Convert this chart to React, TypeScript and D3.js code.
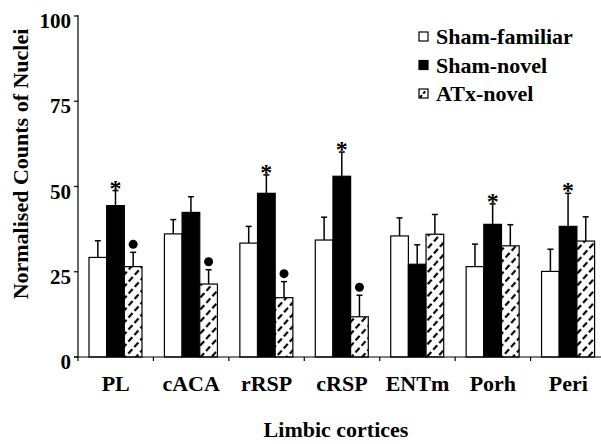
import React from 'react'
import * as d3 from 'd3'

// regions along the x axis
const regions = ['PL', 'cACA', 'rRSP', 'cRSP', 'ENTm', 'Porh', 'Peri']
const groups = ['Sham-familiar', 'Sham-novel', 'ATx-novel']

// mean values
const shamFamiliar = [29.2, 36.1, 33.4, 34.3, 35.5, 26.5, 25.1]
const shamNovel = [44.4, 42.4, 48.0, 53.0, 27.2, 38.9, 38.3]
const atxNovel = [26.5, 21.4, 17.4, 11.8, 36.0, 32.6, 34.0]

// top of the (upward only) error bars
const shamFamiliarErr = [34.1, 40.3, 38.3, 41.0, 40.8, 33.1, 31.6]
const shamNovelErr = [48.8, 47.0, 53.4, 60.1, 32.9, 44.9, 48.0]
const atxNovelErr = [30.7, 25.6, 22.1, 18.1, 41.8, 38.8, 41.1]

// significance marks: * on sham-novel, dot on ATx-novel
const starMarks = [true, false, true, true, false, true, true]
const dotMarks = [true, true, true, true, false, false, false]

const yTicks = [0, 25, 50, 75, 100]

export default function App() {
  const W = 601, H = 444
  const left = 78, right = 606, top = 16, bottom = 357

  const x = d3.scaleBand().domain(regions).range([left, right])
  const inner = d3.scaleBand().domain(groups).range([11, 64]).paddingInner(0)
  const y = d3.scaleLinear().domain([0, 100]).range([bottom, top])

  const series = [
    { name: groups[0], vals: shamFamiliar, err: shamFamiliarErr, fill: 'white' },
    { name: groups[1], vals: shamNovel, err: shamNovelErr, fill: 'black' },
    { name: groups[2], vals: atxNovel, err: atxNovelErr, fill: 'url(#hatch)' },
  ]

  const font = '"Liberation Serif", "Times New Roman", serif'

  return (
    <svg width={W} height={H} style={{ position: 'absolute', left: 0, top: 0, background: 'white' }}
      fontFamily={font} fontWeight="bold">
      <defs>
        <pattern id="hatch" patternUnits="userSpaceOnUse" width="8" height="9" patternTransform="rotate(42)">
          <rect width="8" height="9" fill="white" />
          <line x1="4" y1="0" x2="4" y2="9" stroke="black" strokeWidth="2.2" strokeDasharray="6 3" />
        </pattern>
      </defs>

      {/* bars */}
      {series.map((s) => (
        <g key={s.name}>
          {regions.map((r, i) => {
            const bx = (x(r) as number) + (inner(s.name) as number)
            const bw = inner.bandwidth()
            const cx = bx + bw / 2
            return (
              <g key={r}>
                <line x1={cx} x2={cx} y1={y(s.vals[i])} y2={y(s.err[i])} stroke="black" strokeWidth={1.5} />
                <line x1={cx - 3} x2={cx + 3} y1={y(s.err[i])} y2={y(s.err[i])} stroke="black" strokeWidth={1.5} />
                <rect x={bx} y={y(s.vals[i])} width={bw} height={bottom - y(s.vals[i])}
                  fill={s.fill} stroke="black" strokeWidth={1.2} />
              </g>
            )
          })}
        </g>
      ))}

      {/* markers */}
      {regions.map((r, i) => {
        const bw = inner.bandwidth()
        const sx = (x(r) as number) + (inner(groups[1]) as number) + bw / 2
        const dx = (x(r) as number) + (inner(groups[2]) as number) + bw / 2
        return (
          <g key={'m' + r}>
            {starMarks[i] && (
              <text x={sx} y={y(shamNovelErr[i]) + 5} textAnchor="middle" fontSize={24}>*</text>
            )}
            {dotMarks[i] && <circle cx={dx} cy={y(atxNovelErr[i]) - 8} r={4.5} fill="black" />}
          </g>
        )
      })}

      {/* y axis */}
      <line x1={left} x2={left} y1={top - 1} y2={bottom} stroke="black" strokeWidth={1.2} />
      {yTicks.map((t) => (
        <g key={t}>
          <line x1={left - 4} x2={left} y1={y(t)} y2={y(t)} stroke="black" strokeWidth={1.2} />
          <text x={left - 7} y={y(t) + 12} textAnchor="end" fontSize={21}>{t}</text>
        </g>
      ))}

      {/* x axis */}
      <line x1={left - 4} x2={W} y1={bottom} y2={bottom} stroke="black" strokeWidth={1.2} />
      {regions.map((r) => (
        <g key={'x' + r}>
          <line x1={x(r) as number} x2={x(r) as number} y1={bottom} y2={bottom + 4} stroke="black" strokeWidth={1.2} />
          <text x={(x(r) as number) + x.bandwidth() / 2} y={391} textAnchor="middle" fontSize={22}>{r}</text>
        </g>
      ))}

      <text x={336} y={437} textAnchor="middle" fontSize={22}>Limbic cortices</text>
      <text transform={`translate(28,164) rotate(-90)`} textAnchor="middle" fontSize={22}>Normalised Counts of Nuclei</text>

      {/* legend */}
      {series.map((s, i) => (
        <g key={'l' + s.name} transform={`translate(419,${36.5 + i * 28.5})`}>
          <rect x={0} y={-4.5} width={9} height={9} fill={s.fill === 'url(#hatch)' ? 'white' : s.fill} stroke="black" strokeWidth={1.2} />
          {i === 2 && <path d="M1,4 L7,-3" stroke="black" strokeWidth={2} strokeDasharray="3 2" />}
          <text x={17} y={7.5} fontSize={22}>{s.name}</text>
        </g>
      ))}
    </svg>
  )
}
